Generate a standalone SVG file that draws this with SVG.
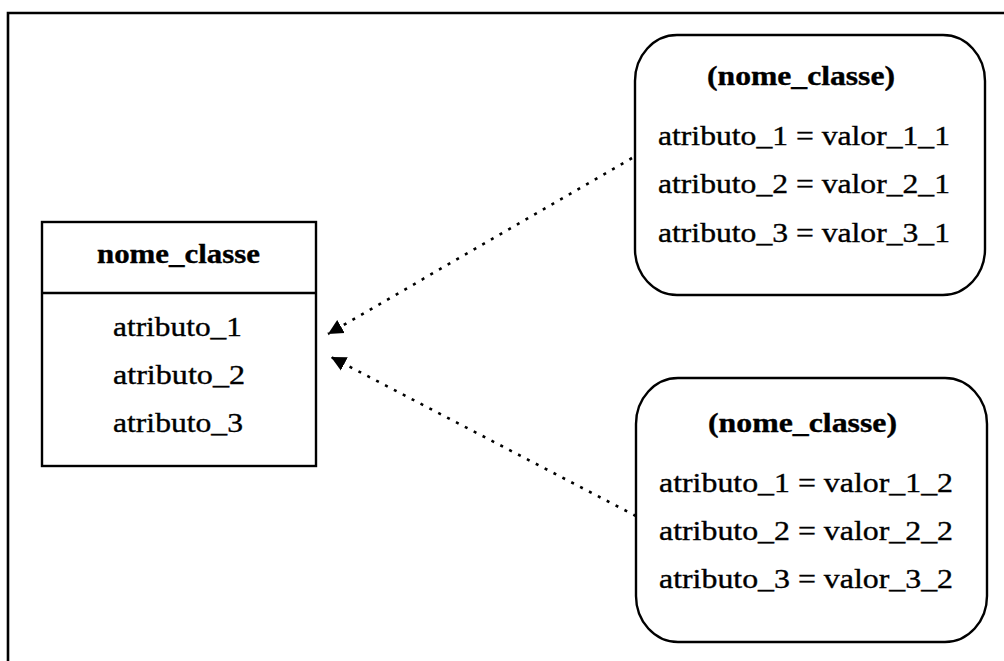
<svg xmlns="http://www.w3.org/2000/svg" width="1004" height="661" viewBox="0 0 1004 661">
  <style>
    .frame { fill: none; stroke: #000; stroke-width: 2.6; }
    .box { fill: #fff; stroke: #000; stroke-width: 2.4; }
    .t { font-family: "Liberation Serif", "Times New Roman", serif; font-size: 27px; fill: #000; stroke: #000; stroke-width: 0.35; }
    .b { font-weight: bold; }
    .dep { fill: none; stroke: #000; stroke-width: 2.6; stroke-dasharray: 3 7; }
  </style>
  <defs>
    <marker id="head" markerUnits="userSpaceOnUse" markerWidth="16" markerHeight="18" viewBox="0 -8 16 16" refX="15" refY="0" orient="auto">
      <path d="M0,-7.5 L15,0 L0,7.5 Z" fill="#000"/>
    </marker>
  </defs>

  <rect width="1004" height="661" fill="#fff"/>

  <!-- outer frame (top and left edges) -->
  <path class="frame" d="M8,661 V13 H1004"/>

  <!-- class -->
  <g id="class">
    <rect class="box" x="42" y="222" width="274" height="244"/>
    <line x1="42" y1="293" x2="316" y2="293" stroke="#000" stroke-width="2.4"/>
    <text class="t b" x="97" y="263" textLength="163" lengthAdjust="spacingAndGlyphs">nome_classe</text>
    <text class="t" x="113" y="336" textLength="129" lengthAdjust="spacingAndGlyphs">atributo_1</text>
    <text class="t" x="113" y="384" textLength="132" lengthAdjust="spacingAndGlyphs">atributo_2</text>
    <text class="t" x="113" y="432" textLength="130" lengthAdjust="spacingAndGlyphs">atributo_3</text>
  </g>

  <!-- first object -->
  <g id="object1">
    <rect class="box" x="635" y="35" width="350" height="260" rx="42" ry="46"/>
    <text class="t b" x="707" y="85" textLength="188" lengthAdjust="spacingAndGlyphs">(nome_classe)</text>
    <text class="t" x="658" y="145" textLength="292" lengthAdjust="spacingAndGlyphs">atributo_1 = valor_1_1</text>
    <text class="t" x="658" y="193" textLength="292" lengthAdjust="spacingAndGlyphs">atributo_2 = valor_2_1</text>
    <text class="t" x="658" y="242" textLength="292" lengthAdjust="spacingAndGlyphs">atributo_3 = valor_3_1</text>
  </g>

  <!-- second object -->
  <g id="object2">
    <rect class="box" x="636" y="378" width="351" height="264" rx="42" ry="46"/>
    <text class="t b" x="708" y="432" textLength="189" lengthAdjust="spacingAndGlyphs">(nome_classe)</text>
    <text class="t" x="659" y="492" textLength="294" lengthAdjust="spacingAndGlyphs">atributo_1 = valor_1_2</text>
    <text class="t" x="659" y="540" textLength="294" lengthAdjust="spacingAndGlyphs">atributo_2 = valor_2_2</text>
    <text class="t" x="659" y="588" textLength="294" lengthAdjust="spacingAndGlyphs">atributo_3 = valor_3_2</text>
  </g>

  <!-- instance-of connectors -->
  <g id="connectors">
    <line class="dep" x1="632" y1="158" x2="328" y2="334" marker-end="url(#head)"/>
    <line class="dep" x1="636" y1="516" x2="331" y2="357" marker-end="url(#head)"/>
  </g>
</svg>
